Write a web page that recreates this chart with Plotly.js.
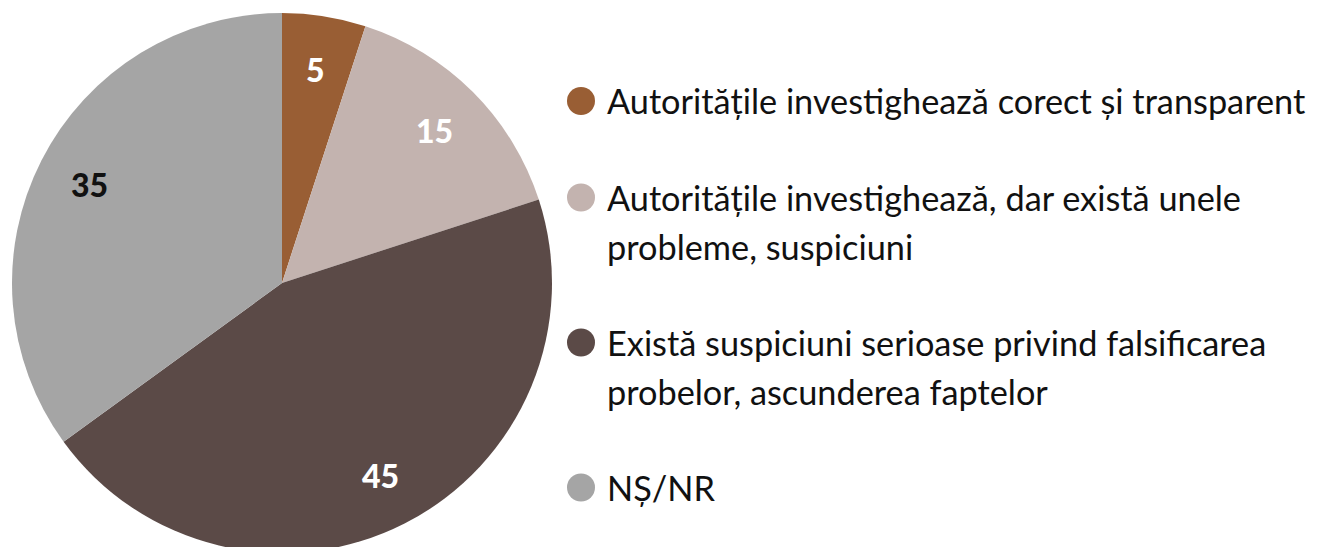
<!DOCTYPE html>
<html>
<head>
<meta charset="utf-8">
<script src="https://cdn.plot.ly/plotly-3.0.1.min.js"></script>
<style>
html,body{margin:0;padding:0;background:#fff;}
#wrap{width:1318px;height:547px;overflow:hidden;}
#chart{width:1318px;height:566px;}
</style>
</head>
<body>
<div id="wrap"><div id="chart"></div></div>
<script>
// Data
const labels = [
  "Autoritățile investighează corect și transparent",
  "Autoritățile investighează, dar există unele probleme, suspiciuni",
  "Există suspiciuni serioase privind falsificarea probelor, ascunderea faptelor",
  "NȘ/NR"
];
const legendLines = [
  ["Autoritățile investighează corect și transparent"],
  ["Autoritățile investighează, dar există unele", "probleme, suspiciuni"],
  ["Există suspiciuni serioase privind falsificarea", "probelor, ascunderea faptelor"],
  ["NȘ/NR"]
];
const values = [5, 15, 45, 35];
const colors = ["#995E34", "#C3B3AF", "#5B4A47", "#A5A5A5"];
const textColors = ["#ffffff", "#ffffff", "#ffffff", "#111111"];

const W = 1318, H = 566;
const FONT = "Lato, 'Open Sans', sans-serif";
const CX = 282, CY = 283, R = 270, LABEL_R = 0.8;

const trace = {
  type: "pie",
  labels: labels,
  values: values,
  sort: false,
  direction: "clockwise",
  rotation: 0,
  marker: {colors: colors, line: {width: 0}},
  textinfo: "none",
  domain: {x: [(CX - R) / W, (CX + R) / W], y: [0, 1]},
  showlegend: false,
  hoverinfo: "label+value"
};

const annotations = [];
const shapes = [];

// value labels at slice mid-angle
const total = values.reduce((a, b) => a + b, 0);
let cum = 0;
values.forEach((v, i) => {
  const th = 2 * Math.PI * (cum + v / 2) / total;
  cum += v;
  const px = CX + LABEL_R * R * Math.sin(th);
  const py = CY - LABEL_R * R * Math.cos(th);
  annotations.push({
    xref: "paper", yref: "paper",
    x: px / W, y: 1 - py / H,
    xanchor: "center", yanchor: "middle",
    text: String(v), showarrow: false,
    font: {family: FONT, size: 32, weight: 900, color: textColors[i]}
  });
});

// legend
let y = 101;
const lineStep = 48.5, itemGap = 48;
legendLines.forEach((lines, i) => {
  shapes.push({
    type: "circle", xref: "paper", yref: "paper",
    xsizemode: "pixel", ysizemode: "pixel",
    xanchor: 581 / W, yanchor: 1 - y / H,
    x0: -14, x1: 14, y0: -14, y1: 14,
    fillcolor: colors[i], line: {width: 0}
  });
  lines.forEach((t, k) => {
    annotations.push({
      xref: "paper", yref: "paper",
      x: 605 / W, y: 1 - (y + k * lineStep) / H,
      xanchor: "left", yanchor: "middle",
      text: t, showarrow: false,
      font: {family: FONT, size: 34.3, color: "#111111"}
    });
  });
  y += lines.length * lineStep + itemGap;
});

const layout = {
  width: W, height: H,
  margin: {l: 0, r: 0, t: 0, b: 0},
  paper_bgcolor: "#ffffff",
  plot_bgcolor: "#ffffff",
  showlegend: false,
  annotations: annotations,
  shapes: shapes
};

Plotly.newPlot("chart", [trace], layout, {displayModeBar: false, staticPlot: true});
</script>
</body>
</html>
